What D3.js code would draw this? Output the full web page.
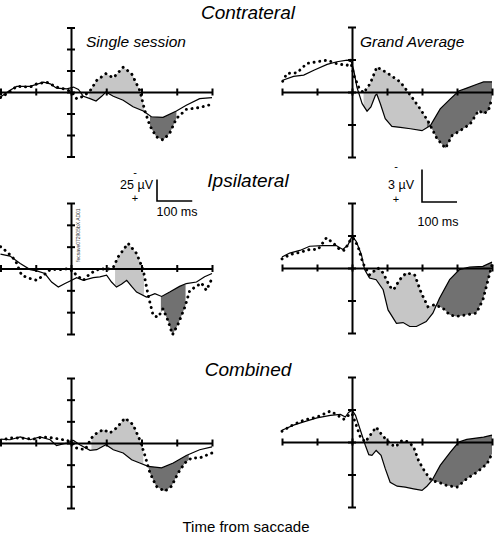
<!DOCTYPE html>
<html><head><meta charset="utf-8">
<script src="https://cdn.jsdelivr.net/npm/d3@7"></script>
<style>
body{margin:0;background:#fff;}
svg{display:block;font-family:"Liberation Sans",Arial,sans-serif;}
</style></head>
<body>
<svg id="c" width="496" height="538"></svg>
<script>
// time in ms from saccade, value in axis-tick units (1 unit = scale bar)
const xTicks = [-200, -100, 0, 100, 200, 300, 400];
const yTicksSingle = [-3, -2, -1, 0, 1, 2, 3];
const yTicksGrand = [-2, -1, 0, 1, 2];

const tlSolid = [[-200,-0.23],[-173,0.08],[-154,0.26],[-116,0.26],[-78,0.46],[-59,0.38],[-41,0.18],[-12,0.15],[7,0.23],[21,0.12],[35,-0.2],[54,-0.31],[71,-0.42],[87,-0.2],[99,0],[120,-0.2],[148,-0.38],[176,-0.69],[205,-0.88],[228,-1.15],[261,-1.18],[299,-0.88],[327,-0.62],[365,-0.31],[400,-0.26]];
const tlDotted = [[-200,-0.26],[-182,-0.08],[-154,0.26],[-116,0.23],[-97,0.38],[-69,0.46],[-41,0.23],[-12,0.11],[2,0],[16,-0.31],[35,-0.2],[54,0.05],[73,0.54],[99,0.85],[120,0.66],[148,1.15],[172,0.85],[195,0.08],[209,-0.85],[224,-1.58],[242,-2.08],[261,-2.23],[280,-1.92],[299,-1.23],[327,-0.81],[365,-0.72],[400,-0.57]];

const trSolid = [[-198,0.36],[-167,0.48],[-138,0.52],[-109,0.67],[-71,0.85],[-43,0.93],[-14,0.98],[-2,0.93],[5,0.67],[14,0.15],[29,-0.36],[43,-0.59],[54,-0.46],[67,-0.1],[71,-0.07],[81,-0.36],[95,-0.82],[114,-1.06],[138,-1.09],[167,-1.13],[200,-1.19],[224,-1.03],[252,-0.52],[281,-0.21],[305,0.03],[328,0.12],[357,0.24],[376,0.31],[400,0.31]];
const trDotted = [[-198,0.33],[-186,0.57],[-157,0.59],[-129,0.88],[-100,0.93],[-71,0.98],[-43,0.87],[-14,0.82],[-5,0.98],[5,0.52],[19,0.15],[33,-0.03],[52,0.26],[71,0.77],[100,0.59],[138,0.31],[167,-0.1],[195,-0.52],[219,-0.93],[243,-1.44],[267,-1.73],[286,-1.34],[309,-1.19],[338,-0.98],[362,-0.57],[376,-0.67],[390,-0.57],[400,-0.18]];

const mlSolid = [[-200,0.66],[-173,0.57],[-144,0.23],[-116,-0.05],[-97,-0.11],[-74,-0.23],[-55,-0.62],[-36,-0.85],[-17,-0.69],[2,-0.54],[16,-0.42],[35,-0.54],[63,-0.42],[82,-0.38],[101,-0.31],[115,-0.62],[129,-0.85],[143,-0.72],[158,-0.54],[172,-0.82],[186,-1.08],[214,-1.31],[238,-1.15],[257,-1.28],[280,-1.08],[308,-0.82],[327,-0.69],[356,-0.62],[379,-0.38],[400,-0.23]];
const mlDotted = [[-200,1.0],[-182,0.77],[-158,0.38],[-140,-0.31],[-116,-0.46],[-97,-0.54],[-78,-0.31],[-59,-0.05],[-31,-0.05],[-3,0],[16,-0.31],[35,-0.54],[54,-0.23],[82,0],[101,-0.05],[120,0.05],[134,0.54],[162,1.15],[186,0.69],[205,-0.08],[219,-1.23],[233,-2.15],[247,-2.23],[261,-1.85],[275,-2.38],[288,-3.03],[304,-2.54],[323,-1.77],[337,-1.0],[356,-0.82],[370,-0.66],[384,-1.0],[400,-0.46]];

const mrSolid = [[-200,0.34],[-178,0.46],[-149,0.54],[-121,0.67],[-83,0.69],[-45,0.69],[-26,0.57],[-11,0.72],[0,0.98],[12,0.82],[27,0.41],[36,-0.05],[50,-0.31],[69,-0.36],[89,-0.67],[103,-1.29],[127,-1.7],[146,-1.68],[165,-1.8],[184,-1.8],[212,-1.65],[231,-1.39],[250,-0.93],[279,-0.36],[307,-0.05],[336,0.03],[374,0.05],[400,0.18]];
const mrDotted = [[-200,0.28],[-178,0.41],[-149,0.48],[-121,0.57],[-97,0.57],[-73,0.93],[-54,0.77],[-35,0.57],[-21,0.54],[-7,0.82],[3,0.93],[17,0.67],[31,0.15],[50,-0.21],[74,0],[89,-0.15],[108,-0.57],[119,-0.67],[136,-0.36],[155,-0.15],[179,-0.21],[198,-0.77],[217,-1.19],[236,-1.13],[260,-1.24],[279,-1.44],[298,-1.49],[327,-1.44],[355,-1.39],[374,-0.98],[400,0.1]];

const blSolid = [[-200,0.18],[-173,0.15],[-144,0.28],[-116,0.15],[-88,0.28],[-59,0.15],[-41,-0.12],[-12,0],[7,0.12],[25,-0.08],[54,-0.34],[73,-0.31],[99,-0.08],[120,-0.31],[148,-0.46],[172,-0.77],[195,-0.92],[219,-1.08],[257,-1.15],[290,-0.92],[327,-0.58],[365,-0.31],[400,-0.18]];
const blDotted = [[-200,0.12],[-173,0.23],[-144,0.23],[-107,0.18],[-78,0.28],[-50,0.23],[-22,0.15],[-3,0.08],[16,-0.23],[40,-0.31],[58,0.23],[73,0.46],[92,0.62],[110,0.46],[129,0.69],[153,1.15],[176,0.85],[195,0.15],[209,-0.54],[224,-1.38],[242,-2.0],[266,-2.23],[285,-2.0],[304,-1.38],[323,-0.92],[342,-0.69],[365,-0.69],[400,-0.46]];

const brSolid = [[-200,0.36],[-167,0.52],[-138,0.62],[-100,0.74],[-62,0.82],[-33,0.85],[-19,0.77],[-10,0.91],[0,0.98],[10,0.82],[24,0.36],[38,-0.1],[48,-0.39],[57,-0.41],[69,-0.26],[83,-0.41],[95,-0.82],[109,-1.24],[129,-1.36],[152,-1.39],[176,-1.44],[200,-1.49],[214,-1.36],[228,-1.19],[252,-0.72],[281,-0.31],[305,0],[328,0.08],[376,0.15],[400,0.21]];
const brDotted = [[-200,0.33],[-167,0.54],[-138,0.67],[-100,0.77],[-62,0.95],[-41,0.82],[-24,0.7],[-10,0.82],[0,0.88],[12,0.52],[24,0.15],[38,0],[52,0.21],[69,0.46],[86,0.21],[109,-0.05],[124,-0.15],[143,0.05],[162,0],[176,-0.15],[190,-0.57],[209,-0.93],[228,-1.19],[248,-1.24],[271,-1.34],[300,-1.39],[328,-1.13],[357,-0.93],[386,-0.67],[400,-0.36]];

// shaded windows [start, end] in ms
const lightWindows = [[52,207],[33,214],[125,207],[50,236],[58,205],[38,228]];
const darkWindows  = [[224,299],[214,400],[255,325],[236,400],[219,334],[228,400]];

const svg = d3.select("#c");

const panels = [
  {solid:tlSolid, dotted:tlDotted, x:[0.5,212], y:[156.5,27.5], yd:3, yt:yTicksSingle},
  {solid:trSolid, dotted:trDotted, x:[282,492], y:[157,27], yd:2, yt:yTicksGrand},
  {solid:mlSolid, dotted:mlDotted, x:[0.5,212], y:[334,203], yd:3, yt:yTicksSingle},
  {solid:mrSolid, dotted:mrDotted, x:[282,492], y:[333,203], yd:2, yt:yTicksGrand},
  {solid:blSolid, dotted:blDotted, x:[0.5,212], y:[508,378], yd:3, yt:yTicksSingle},
  {solid:brSolid, dotted:brDotted, x:[282,492], y:[507,377], yd:2, yt:yTicksGrand}
];

function interp(arr, t){
  for(let i=0;i<arr.length-1;i++){
    const a=arr[i], b=arr[i+1];
    if(t>=a[0] && t<=b[0]){ const f=(t-a[0])/(b[0]-a[0]||1); return a[1]+f*(b[1]-a[1]); }
  }
  return t<arr[0][0]?arr[0][1]:arr[arr.length-1][1];
}
function band(solid, dotted, w){
  const ts = Array.from(new Set([w[0], w[1], ...solid.map(d=>d[0]), ...dotted.map(d=>d[0])]))
    .filter(t=>t>=w[0] && t<=w[1]).sort((a,b)=>a-b);
  return ts.map(t=>({t, a:interp(solid,t), b:interp(dotted,t)}));
}

const scaleRefs = [];
panels.forEach((p,i)=>{
  const x = d3.scaleLinear().domain([-200,400]).range(p.x);
  const y = d3.scaleLinear().domain([-p.yd,p.yd]).range(p.y);
  scaleRefs.push({x,y});
  const g = svg.append("g");
  const area = d3.area().x(d=>x(d.t)).y0(d=>y(d.a)).y1(d=>y(d.b));
  g.append("path").attr("d", area(band(p.solid,p.dotted,lightWindows[i]))).attr("fill","#c6c6c6");
  g.append("path").attr("d", area(band(p.solid,p.dotted,darkWindows[i]))).attr("fill","#717171");

  const xa = g.append("g").attr("transform",`translate(0,${y(0)})`)
    .call(d3.axisBottom(x).tickValues(xTicks).tickSizeOuter(0).tickFormat(""));
  xa.select(".domain").attr("stroke","#000").attr("stroke-width",2);
  xa.selectAll(".tick line").attr("y1",-3.5).attr("y2",3.5).attr("stroke","#000").attr("stroke-width",2);
  const ya = g.append("g").attr("transform",`translate(${x(0)},0)`)
    .call(d3.axisLeft(y).tickValues(p.yt).tickSizeOuter(0).tickFormat(""));
  ya.select(".domain").attr("stroke","#000").attr("stroke-width",2);
  ya.selectAll(".tick line").attr("x1",-4).attr("x2",4).attr("stroke","#000").attr("stroke-width",2);

  const line = d3.line().x(d=>x(d[0])).y(d=>y(d[1]));
  g.append("path").attr("d",line(p.solid)).attr("fill","none").attr("stroke","#000").attr("stroke-width",1.2);
  g.append("path").attr("d",line(p.dotted)).attr("fill","none").attr("stroke","#000")
    .attr("stroke-width",2.9).attr("stroke-linecap","round").attr("stroke-dasharray","0.1,5.6");
});

// titles
const titles = [["Contrateral",19],["Ipsilateral",187],["Combined",376]];
titles.forEach(([t,yb])=>svg.append("text").attr("x",248).attr("y",yb).attr("text-anchor","middle")
  .attr("font-size",19).attr("font-style","italic").text(t));
svg.append("text").attr("x",86).attr("y",47).attr("font-size",15.5).attr("font-style","italic").text("Single session");
svg.append("text").attr("x",360).attr("y",47).attr("font-size",15.5).attr("font-style","italic").text("Grand Average");
svg.append("text").attr("x",246).attr("y",532).attr("text-anchor","middle").attr("font-size",15).text("Time from saccade");

// tiny file label
svg.append("text").attr("transform","translate(80,262) rotate(-90)").attr("font-size",5).attr("fill","#333")
  .text("fecsave072905bX   AD01");

// scale bars (1 tick unit vertical, 100 ms horizontal)
function scaleBar(ref, x0, y0, label, txX, minusY, plusY, msX, msY){
  const w = ref.x(100)-ref.x(0), h = ref.y(0)-ref.y(1);
  const g = svg.append("g");
  g.append("path").attr("d",`M${x0},${y0-h}V${y0}H${x0+w}`).attr("fill","none").attr("stroke","#000").attr("stroke-width",1.6);
  g.append("text").attr("x",txX).attr("y",189).attr("text-anchor","end").attr("font-size",12.5).text(label);
  g.append("text").attr("x",txX-18).attr("y",minusY).attr("text-anchor","middle").attr("font-size",11).text("-");
  g.append("text").attr("x",txX-18).attr("y",plusY).attr("text-anchor","middle").attr("font-size",11).text("+");
  g.append("text").attr("x",msX).attr("y",msY).attr("text-anchor","middle").attr("font-size",12.5).text("100 ms");
}
scaleBar(scaleRefs[0], 157, 201, "25 \u00b5V", 153, 176, 202, 177, 216);
scaleBar(scaleRefs[1], 422, 202, "3 \u00b5V", 414, 170, 203, 438, 226);
</script>
</body></html>
